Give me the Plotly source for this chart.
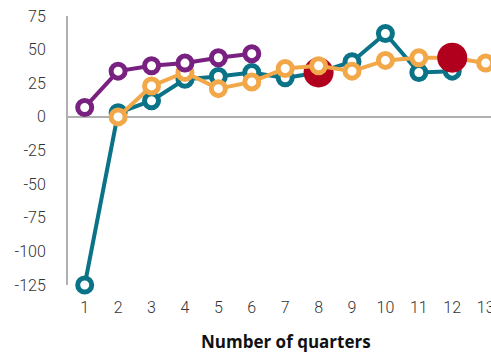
import plotly.graph_objects as go

quarters = list(range(1, 14))
teal_x = list(range(1, 13))
teal_y = [-125, 3, 12, 28, 30, 33, 29, 33, 41, 62, 33, 34]
orange_x = list(range(2, 14))
orange_y = [0, 23, 33, 21, 26, 36, 38, 34, 42, 44, 44, 40]
purple_x = list(range(1, 7))
purple_y = [7, 34, 38, 40, 44, 47]
highlight_teal_x = 8
highlight_orange_x = 12

ytick_vals = [75, 50, 25, 0, -25, -50, -75, -100, -125]
ytick_text = ["75", "50", "25", "0", "-25", "-50", "-75", "-100", "-125"]

TEAL = "#0b7387"
ORANGE = "#f2a848"
PURPLE = "#782180"
RED = "#b0001e"

def marker_props(xs, color, hl):
    sizes = [30 if x == hl else 14 for x in xs]
    fills = [RED if x == hl else "white" for x in xs]
    lines = [RED if x == hl else color for x in xs]
    widths = [0 if x == hl else 5 for x in xs]
    return dict(size=sizes, color=fills, line=dict(color=lines, width=widths), opacity=1)

fig = go.Figure()
fig.add_trace(go.Scatter(x=teal_x, y=teal_y, mode="lines+markers",
                         line=dict(color=TEAL, width=4),
                         marker=marker_props(teal_x, TEAL, highlight_teal_x),
                         cliponaxis=False, showlegend=False))
fig.add_trace(go.Scatter(x=orange_x, y=orange_y, mode="lines+markers",
                         line=dict(color=ORANGE, width=4),
                         marker=marker_props(orange_x, ORANGE, highlight_orange_x),
                         cliponaxis=False, showlegend=False))
fig.add_trace(go.Scatter(x=purple_x, y=purple_y, mode="lines+markers",
                         line=dict(color=PURPLE, width=4),
                         marker=marker_props(purple_x, PURPLE, None),
                         cliponaxis=False, showlegend=False))

fig.update_layout(
    width=491, height=354,
    margin=dict(l=68, r=0, t=16, b=69, autoexpand=False),
    paper_bgcolor="white", plot_bgcolor="white",
    font=dict(family="Roboto, Liberation Sans, sans-serif", size=16, color="#333"),
    xaxis=dict(range=[0.5, 13.16], tickvals=quarters, ticktext=[str(q) for q in quarters],
               showgrid=False, zeroline=False, showline=False, ticks="",
               ticklabelstandoff=11, ticklabeloverflow="allow", automargin=False,
               tickfont=dict(size=16, color="#333", weight=300)),
    yaxis=dict(range=[-125, 75], tickvals=ytick_vals, ticktext=ytick_text,
               showgrid=False, zeroline=True, zerolinecolor="#b0b0b0", zerolinewidth=2,
               showline=True, linecolor="#b0b0b0", linewidth=2, ticks="",
               ticklabelstandoff=17, automargin=False,
               tickfont=dict(size=16, color="#333", weight=300)),
    annotations=[dict(text="<b>Number of quarters</b>", xref="paper", yref="paper",
                      x=0.515, y=0, yshift=-56, xanchor="center", yanchor="middle",
                      showarrow=False,
                      font=dict(family="Open Sans, Roboto, sans-serif", size=17, color="#111"))],
)

fig.write_html("out.html", config={"displayModeBar": False},
               post_script="document.body.style.margin='0';document.body.style.overflow='hidden';")
